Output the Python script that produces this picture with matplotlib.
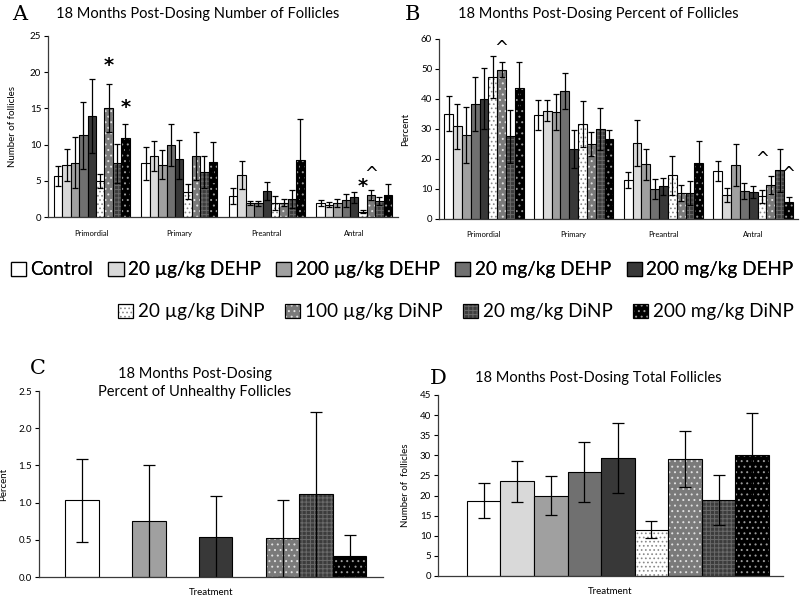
import numpy as np
import matplotlib
matplotlib.use("Agg")
import matplotlib.pyplot as plt
from matplotlib.patches import Patch
from matplotlib.legend_handler import HandlerTuple

plt.rcParams["font.family"] = ["Lato", "DejaVu Sans"]
plt.rcParams["hatch.linewidth"] = 0.7

# treatment groups (legend order)
groups = ["Control", "20 µg/kg DEHP", "200 µg/kg DEHP", "20 mg/kg DEHP", "200 mg/kg DEHP",
          "20 µg/kg DiNP", "100 µg/kg DiNP", "20 mg/kg DiNP", "200 mg/kg DiNP"]
stages = ["Primordial", "Primary", "Preantral", "Antral"]

# panel A: number of follicles, rows = stages, cols = groups
num_mean = [
    [5.7, 7.2, 7.5, 11.3, 14.0, 5.0, 15.1, 7.4, 10.9],
    [7.4, 8.4, 7.2, 9.9, 8.0, 3.5, 8.4, 6.2, 7.6],
    [2.9, 5.8, 1.9, 1.9, 3.6, 1.9, 2.0, 2.5, 7.9],
    [1.9, 1.7, 2.0, 2.3, 2.7, 0.7, 3.0, 2.2, 3.0],
]
num_err = [
    [1.35, 2.2, 3.5, 4.6, 5.1, 1.0, 3.3, 2.7, 1.9],
    [2.3, 2.1, 2.0, 2.9, 2.7, 1.0, 3.3, 2.2, 2.7],
    [1.1, 2.0, 0.3, 0.35, 1.3, 1.0, 0.5, 1.2, 5.6],
    [0.4, 0.35, 0.55, 0.85, 0.8, 0.2, 0.7, 0.6, 1.6],
]

# panel B: percent of follicles
pct_mean = [
    [35.1, 30.9, 27.9, 38.3, 40.1, 47.2, 49.8, 27.6, 43.7],
    [34.6, 36.1, 35.6, 42.6, 23.3, 31.7, 25.0, 30.0, 26.8],
    [13.1, 25.3, 18.2, 10.0, 10.9, 14.6, 8.7, 8.7, 18.7],
    [16.1, 7.9, 17.9, 9.4, 8.9, 7.6, 11.2, 16.2, 5.6],
]
pct_err = [
    [5.9, 7.5, 9.3, 9.0, 10.1, 7.0, 2.6, 8.8, 8.6],
    [5.0, 3.5, 6.1, 6.1, 6.3, 7.7, 3.9, 7.0, 3.0],
    [2.7, 7.8, 5.1, 3.4, 2.8, 6.5, 2.7, 4.1, 7.2],
    [3.3, 2.4, 7.0, 2.7, 2.0, 2.2, 3.0, 7.1, 1.7],
]

# panel C: percent unhealthy (groups without data left empty)
unh_mean = [1.03, np.nan, 0.75, np.nan, 0.54, np.nan, 0.52, 1.11, 0.28]
unh_err = [0.56, np.nan, 0.76, np.nan, 0.55, np.nan, 0.52, 1.11, 0.28]

# panel D: total follicles
tot_mean = [18.7, 23.5, 20.0, 25.8, 29.3, 11.5, 29.1, 18.9, 30.2]
tot_err = [4.3, 5.2, 4.8, 7.4, 8.7, 2.1, 6.9, 6.3, 10.4]

# significance marks: (stage index, group index, y, symbol)
marks_a = [(0, 6, 20.9, "*"), (0, 8, 15.1, "*"), (3, 5, 4.2, "*"), (3, 6, 6.0, "^")]
marks_b = [(0, 6, 57.0, "^"), (3, 5, 20.0, "^"), (3, 8, 15.0, "^")]

# fill, hatch, hatch colour per group
styles = [
    ("white", None, "black"),
    ("#d9d9d9", None, "black"),
    ("#a0a0a0", None, "black"),
    ("#707070", None, "black"),
    ("#383838", None, "black"),
    ("white", "....", "#8a8a8a"),
    ("#7a7a7a", "...", "#e0e0e0"),
    ("#3c3c3c", "++++", "#6a6a6a"),
    ("black", "...", "#9a9a9a"),
]


def draw_bar(ax, x, h, e, w, k, cap):
    fc, hatch, hc = styles[k]
    if hatch:
        ax.bar(x, h, w, color=fc, hatch=hatch, edgecolor=hc, linewidth=0)
    else:
        ax.bar(x, h, w, color=fc, linewidth=0)
    ax.bar(x, h, w, fill=False, edgecolor="black", linewidth=0.8)
    ax.errorbar(x, h, yerr=e, fmt="none", ecolor="black", elinewidth=0.9,
                capsize=cap, capthick=0.9)


def style_axis(ax):
    for s in ["top", "right"]:
        ax.spines[s].set_visible(False)
    for s in ["left", "bottom"]:
        ax.spines[s].set_color("#3a3a3a")
        ax.spines[s].set_linewidth(0.9)
    ax.tick_params(axis="y", direction="out", length=3, width=0.8, labelsize=7, pad=2)
    ax.tick_params(axis="x", length=0)


fig = plt.figure(figsize=(8, 5.98), dpi=100)

# ---------- A and B ----------
axA = fig.add_axes([0.060, 0.6371, 0.4375, 0.3027])
axB = fig.add_axes([0.5488, 0.6338, 0.4488, 0.3010])
for ax, means, errs, marks, frac in [(axA, num_mean, num_err, marks_a, 0.865),
                                     (axB, pct_mean, pct_err, marks_b, 0.885)]:
    w = frac / 9
    for i in range(len(stages)):
        for k in range(9):
            x = i - frac / 2 + w * (k + 0.5)
            draw_bar(ax, x, means[i][k], errs[i][k], w, k, 2.2)
    for i, k, y, sym in marks:
        x = i - frac / 2 + w * (k + 0.5)
        ax.text(x, y, sym, ha="center", va="center", fontsize=14 if sym == "*" else 12,
                fontweight="bold" if sym == "*" else "normal", family="DejaVu Sans")
    ax.set_xlim(-0.5, 3.5)
    ax.set_xticks(range(4))
    ax.set_xticklabels(stages, fontsize=5.5)
    style_axis(ax)
    ax.tick_params(axis="x", pad=9)

axA.set_ylim(0, 25)
axA.set_yticks(range(0, 26, 5))
axA.set_ylabel("Number of follicles", fontsize=7)
axA.yaxis.set_label_coords(-0.089, 0.5)
axB.set_ylim(0, 60)
axB.set_yticks(range(0, 61, 10))
axB.set_ylabel("Percent", fontsize=7)
axB.yaxis.set_label_coords(-0.081, 0.5)

# ---------- C and D ----------
axC = fig.add_axes([0.0488, 0.0351, 0.430, 0.3110])
axD = fig.add_axes([0.5475, 0.0368, 0.4313, 0.3027])
for ax, means, errs in [(axC, unh_mean, unh_err), (axD, tot_mean, tot_err)]:
    for k in range(9):
        if np.isnan(means[k]):
            continue
        draw_bar(ax, k, means[k], errs[k], 1.0, k, 4.5)
    style_axis(ax)
    ax.set_xticks([])
    ax.set_xlabel("Treatment", fontsize=7)
    ax.xaxis.set_label_coords(0.5, -0.06)

axC.set_xlim(-1.28, 9.0)
axC.set_ylim(0, 2.5)
axC.set_yticks(np.arange(0, 2.51, 0.5))
axC.set_yticklabels([f"{v:.1f}" for v in np.arange(0, 2.51, 0.5)])
axC.set_ylabel("Percent", fontsize=7)
axC.yaxis.set_label_coords(-0.09, 0.5)
axD.set_xlim(-1.36, 8.92)
axD.set_ylim(0, 45)
axD.set_yticks(range(0, 46, 5))
axD.set_ylabel("Number of  follicles", fontsize=7)
axD.yaxis.set_label_coords(-0.081, 0.5)

# ---------- titles / panel letters ----------
H = 598.0
def fy(py):
    return 1 - py / H

letter_kw = dict(family="DejaVu Serif", fontsize=15, va="center", ha="center")
fig.text(20 / 800, fy(14), "A", **letter_kw)
fig.text(412 / 800, fy(14), "B", **letter_kw)
fig.text(38 / 800, fy(369), "C", **letter_kw)
fig.text(438 / 800, fy(378), "D", **letter_kw)
title_kw = dict(fontsize=10.5, va="center", ha="center")
fig.text(198 / 800, fy(14), "18 Months Post-Dosing Number of Follicles", **title_kw)
fig.text(598 / 800, fy(14), "18 Months Post-Dosing Percent of Follicles", **title_kw)
fig.text(195 / 800, fy(383), "18 Months Post-Dosing\nPercent of Unhealthy Follicles",
         linespacing=1.35, **title_kw)
fig.text(598 / 800, fy(378), "18 Months Post-Dosing Total Follicles", **title_kw)

# ---------- legend ----------
def handle(k):
    fc, hatch, hc = styles[k]
    inner = Patch(facecolor=fc, hatch=hatch, edgecolor=hc, linewidth=0)
    outer = Patch(fill=False, edgecolor="black", linewidth=0.9)
    return (inner, outer)

leg_kw = dict(frameon=False, fontsize=13.6, handlelength=0.8, handleheight=0.8,
              handletextpad=0.25, borderpad=0, borderaxespad=0,
              loc="center right", handler_map={tuple: HandlerTuple(ndivide=1)})
leg1 = fig.legend([handle(k) for k in range(5)], groups[:5], ncol=5, columnspacing=0.8,
                  bbox_to_anchor=(0.992, fy(270)), **leg_kw)
fig.add_artist(leg1)
fig.legend([handle(k) for k in range(5, 9)], groups[5:], ncol=4, columnspacing=1.08,
           bbox_to_anchor=(0.992, fy(312)), **leg_kw)

fig.savefig("out.png", dpi=100)
